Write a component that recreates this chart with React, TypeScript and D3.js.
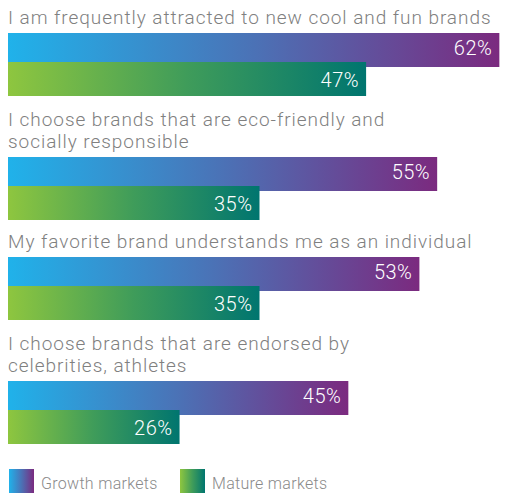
import React, { useEffect, useRef } from "react";
import * as d3 from "d3";

// Survey statements (title lines) and the two series, in %
const statements: string[][] = [
  ["I am frequently attracted to new cool and fun brands"],
  ["I choose brands that are eco-friendly and", "socially responsible"],
  ["My favorite brand understands me as an individual"],
  ["I choose brands that are endorsed by", "celebrities, athletes"],
];
const growthValues = [62, 55, 53, 45];
const matureValues = [47, 35, 35, 26];
const seriesNames = ["Growth markets", "Mature markets"];

const App: React.FC = () => {
  const svgRef = useRef<SVGSVGElement | null>(null);

  useEffect(() => {
    if (!svgRef.current) return;
    const width = 525;
    const height = 493;
    const barLeft = 8;
    const barH = 34;
    const font = "Roboto, 'Liberation Sans', Arial, sans-serif";

    const svg = d3.select(svgRef.current);
    svg.selectAll("*").remove();
    svg.attr("width", width).attr("height", height);

    // gradients
    const defs = svg.append("defs");
    const grads = [
      { id: "gGrowth", stops: ["#20b2ea", "#4b72b6", "#7b2a7f"] },
      { id: "gMature", stops: ["#8ec63f", "#3f9c5a", "#00756f"] },
    ];
    grads.forEach((g) => {
      const lg = defs.append("linearGradient").attr("id", g.id).attr("x1", 0).attr("x2", 1).attr("y1", 0).attr("y2", 0);
      g.stops.forEach((c, i) => {
        lg.append("stop").attr("offset", `${(i / (g.stops.length - 1)) * 100}%`).attr("stop-color", c);
      });
    });

    // the original graphic isn't drawn strictly to scale, this is a fitted axis
    const x = d3.scaleLinear().domain([5, 65]).range([-7, 526]);

    // vertical layout: each group gets more room for a two-line title
    const tops: number[] = [];
    statements.forEach((lines, i) => {
      tops.push(i === 0 ? 33 : tops[i - 1] + 100 + (lines.length - 1) * 24);
    });

    statements.forEach((lines, i) => {
      const top = tops[i];
      const g = svg.append("g");

      g.selectAll("text.title")
        .data(lines)
        .enter()
        .append("text")
        .attr("x", barLeft)
        .attr("y", (_, j) => top - 9 - (lines.length - 1 - j) * 22)
        .text((d) => d)
        .attr("fill", "#808080")
        .attr("font-family", font)
        .attr("font-size", "19px")
        .attr("font-weight", 300)
        .attr("letter-spacing", "0.95px");

      const bars = [
        { v: growthValues[i], y: top, fill: "url(#gGrowth)", dy: 22 },
        { v: matureValues[i], y: top + 29, fill: "url(#gMature)", dy: 25 },
      ];
      bars.forEach((b) => {
        g.append("rect")
          .attr("x", barLeft)
          .attr("y", b.y)
          .attr("width", x(b.v) - barLeft)
          .attr("height", barH)
          .attr("fill", b.fill);
        g.append("text")
          .attr("x", x(b.v) - 7)
          .attr("y", b.y + b.dy)
          .attr("text-anchor", "end")
          .text(`${b.v}%`)
          .attr("fill", "#ffffff")
          .attr("font-family", font)
          .attr("font-size", "20px")
          .attr("font-weight", 300)
          .attr("letter-spacing", "0.5px");
      });
    });

    // legend
    const legendX = [9, 180];
    seriesNames.forEach((name, i) => {
      svg.append("rect")
        .attr("x", legendX[i])
        .attr("y", 469)
        .attr("width", 25)
        .attr("height", 26)
        .attr("fill", i === 0 ? "url(#gGrowth)" : "url(#gMature)");
      svg.append("text")
        .attr("x", legendX[i] + 32)
        .attr("y", 489)
        .text(name)
        .attr("fill", "#8a8a8a")
        .attr("font-family", font)
        .attr("font-size", "16px")
        .attr("font-weight", 300)
        .attr("letter-spacing", "0.3px");
    });
  }, []);

  return (
    <div style={{ position: "absolute", left: 0, top: 0, background: "#fff" }}>
      <svg ref={svgRef} style={{ display: "block" }}></svg>
    </div>
  );
};

export default App;
